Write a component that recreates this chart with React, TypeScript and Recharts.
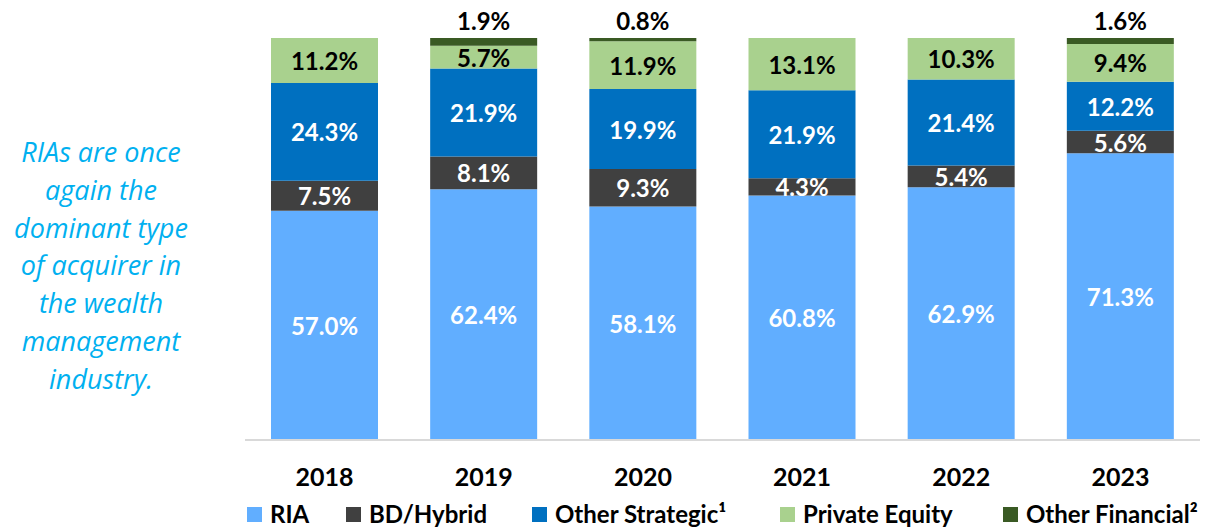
import React from 'react';
import { BarChart, Bar, XAxis, YAxis, Legend, LabelList } from 'recharts';

const years = ['2018', '2019', '2020', '2021', '2022', '2023'];
const ria = [57.0, 62.4, 58.1, 60.8, 62.9, 71.3];
const bdHybrid = [7.5, 8.1, 9.3, 4.3, 5.4, 5.6];
const otherStrategic = [24.3, 21.9, 19.9, 21.9, 21.4, 12.2];
const privateEquity = [11.2, 5.7, 11.9, 13.1, 10.3, 9.4];
const otherFinancial = [0, 1.9, 0.8, 0, 0, 1.6];

const sideNote = ['RIAs are once', 'again the', 'dominant type', 'of acquirer in', 'the wealth', 'management', 'industry.'];

const data = years.map((y, i) => ({
  year: y,
  ria: ria[i],
  bd: bdHybrid[i],
  os: otherStrategic[i],
  pe: privateEquity[i],
  of: otherFinancial[i],
}));

const series = [
  { key: 'ria', name: 'RIA', color: '#61AEFF', text: '#ffffff', w: 99 },
  { key: 'bd', name: 'BD/Hybrid', color: '#404040', text: '#ffffff', w: 186 },
  { key: 'os', name: 'Other Strategic¹', color: '#0070C0', text: '#ffffff', w: 248 },
  { key: 'pe', name: 'Private Equity', color: '#A9D18E', text: '#000000', w: 223 },
  { key: 'of', name: 'Other Financial²', color: '#3A5A24', text: '#000000', w: 200 },
];

const FONT = 'Lato, "Open Sans", sans-serif';

const centerLabel = (fill: string) => (props: any) => {
  const { x, y, width, height, value } = props;
  if (!value) return null;
  return (
    <text
      x={x + width / 2}
      y={y + height / 2}
      fill={fill}
      textAnchor="middle"
      dominantBaseline="central"
      fontFamily={FONT}
      fontWeight={700}
      fontSize={24}
    >
      {Number(value).toFixed(1)}%
    </text>
  );
};

const topLabel = (props: any) => {
  const { x, y, width, value } = props;
  if (!value) return null;
  return (
    <text
      x={x + width / 2}
      y={y - 18}
      fill="#000"
      textAnchor="middle"
      dominantBaseline="central"
      fontFamily={FONT}
      fontWeight={700}
      fontSize={24}
    >
      {Number(value).toFixed(1)}%
    </text>
  );
};

const YearTick = (props: any) => {
  const { x, y, payload } = props;
  return (
    <text
      x={x}
      y={y + 28}
      textAnchor="middle"
      dominantBaseline="central"
      fontFamily={FONT}
      fontWeight={700}
      fontSize={25}
      fill="#000"
    >
      {payload.value}
    </text>
  );
};

const LegendContent = () => (
  <div style={{ display: 'flex', alignItems: 'center', fontFamily: FONT, fontWeight: 700, fontSize: 24, color: '#000', whiteSpace: 'nowrap', lineHeight: '24px' }}>
    {series.map((s) => (
      <div key={s.key} style={{ display: 'flex', alignItems: 'center', width: s.w }}>
        <span style={{ display: 'inline-block', width: 15, height: 15, background: s.color, marginRight: 8 }} />
        <span>{s.name}</span>
      </div>
    ))}
  </div>
);

export default function App() {
  return (
    <div style={{ position: 'absolute', left: 0, top: 0, width: 1211, height: 529, background: '#fff', overflow: 'hidden' }}>
      <div
        style={{
          position: 'absolute',
          left: 0,
          top: 133,
          width: 202,
          textAlign: 'center',
          fontFamily: '"Open Sans", sans-serif',
          fontStyle: 'italic',
          fontSize: 27,
          lineHeight: '37.8px',
          color: '#00B0F0',
        }}
      >
        {sideNote.map((l, i) => (
          <div key={i} style={{ whiteSpace: 'nowrap' }}>{l}</div>
        ))}
      </div>
      <BarChart
        width={1211}
        height={529}
        data={data}
        margin={{ top: 38, right: 11, bottom: 0, left: 245 }}
        barCategoryGap={26}
      >
        <XAxis dataKey="year" axisLine={{ stroke: '#D9D9D9', strokeWidth: 2 }} tickLine={false} height={50} tick={<YearTick />} interval={0} />
        <YAxis hide domain={[0, 100]} allowDataOverflow />
        <Legend verticalAlign="bottom" height={39} content={<LegendContent />} wrapperStyle={{ left: 247, width: 960, top: 502, bottom: 'auto' }} />
        {series.map((s) => (
          <Bar key={s.key} dataKey={s.key} name={s.name} stackId="a" fill={s.color} isAnimationActive={false}>
            {s.key === 'of' ? (
              <LabelList dataKey={s.key} content={topLabel} />
            ) : (
              <LabelList dataKey={s.key} content={centerLabel(s.text)} />
            )}
          </Bar>
        ))}
      </BarChart>
    </div>
  );
}
